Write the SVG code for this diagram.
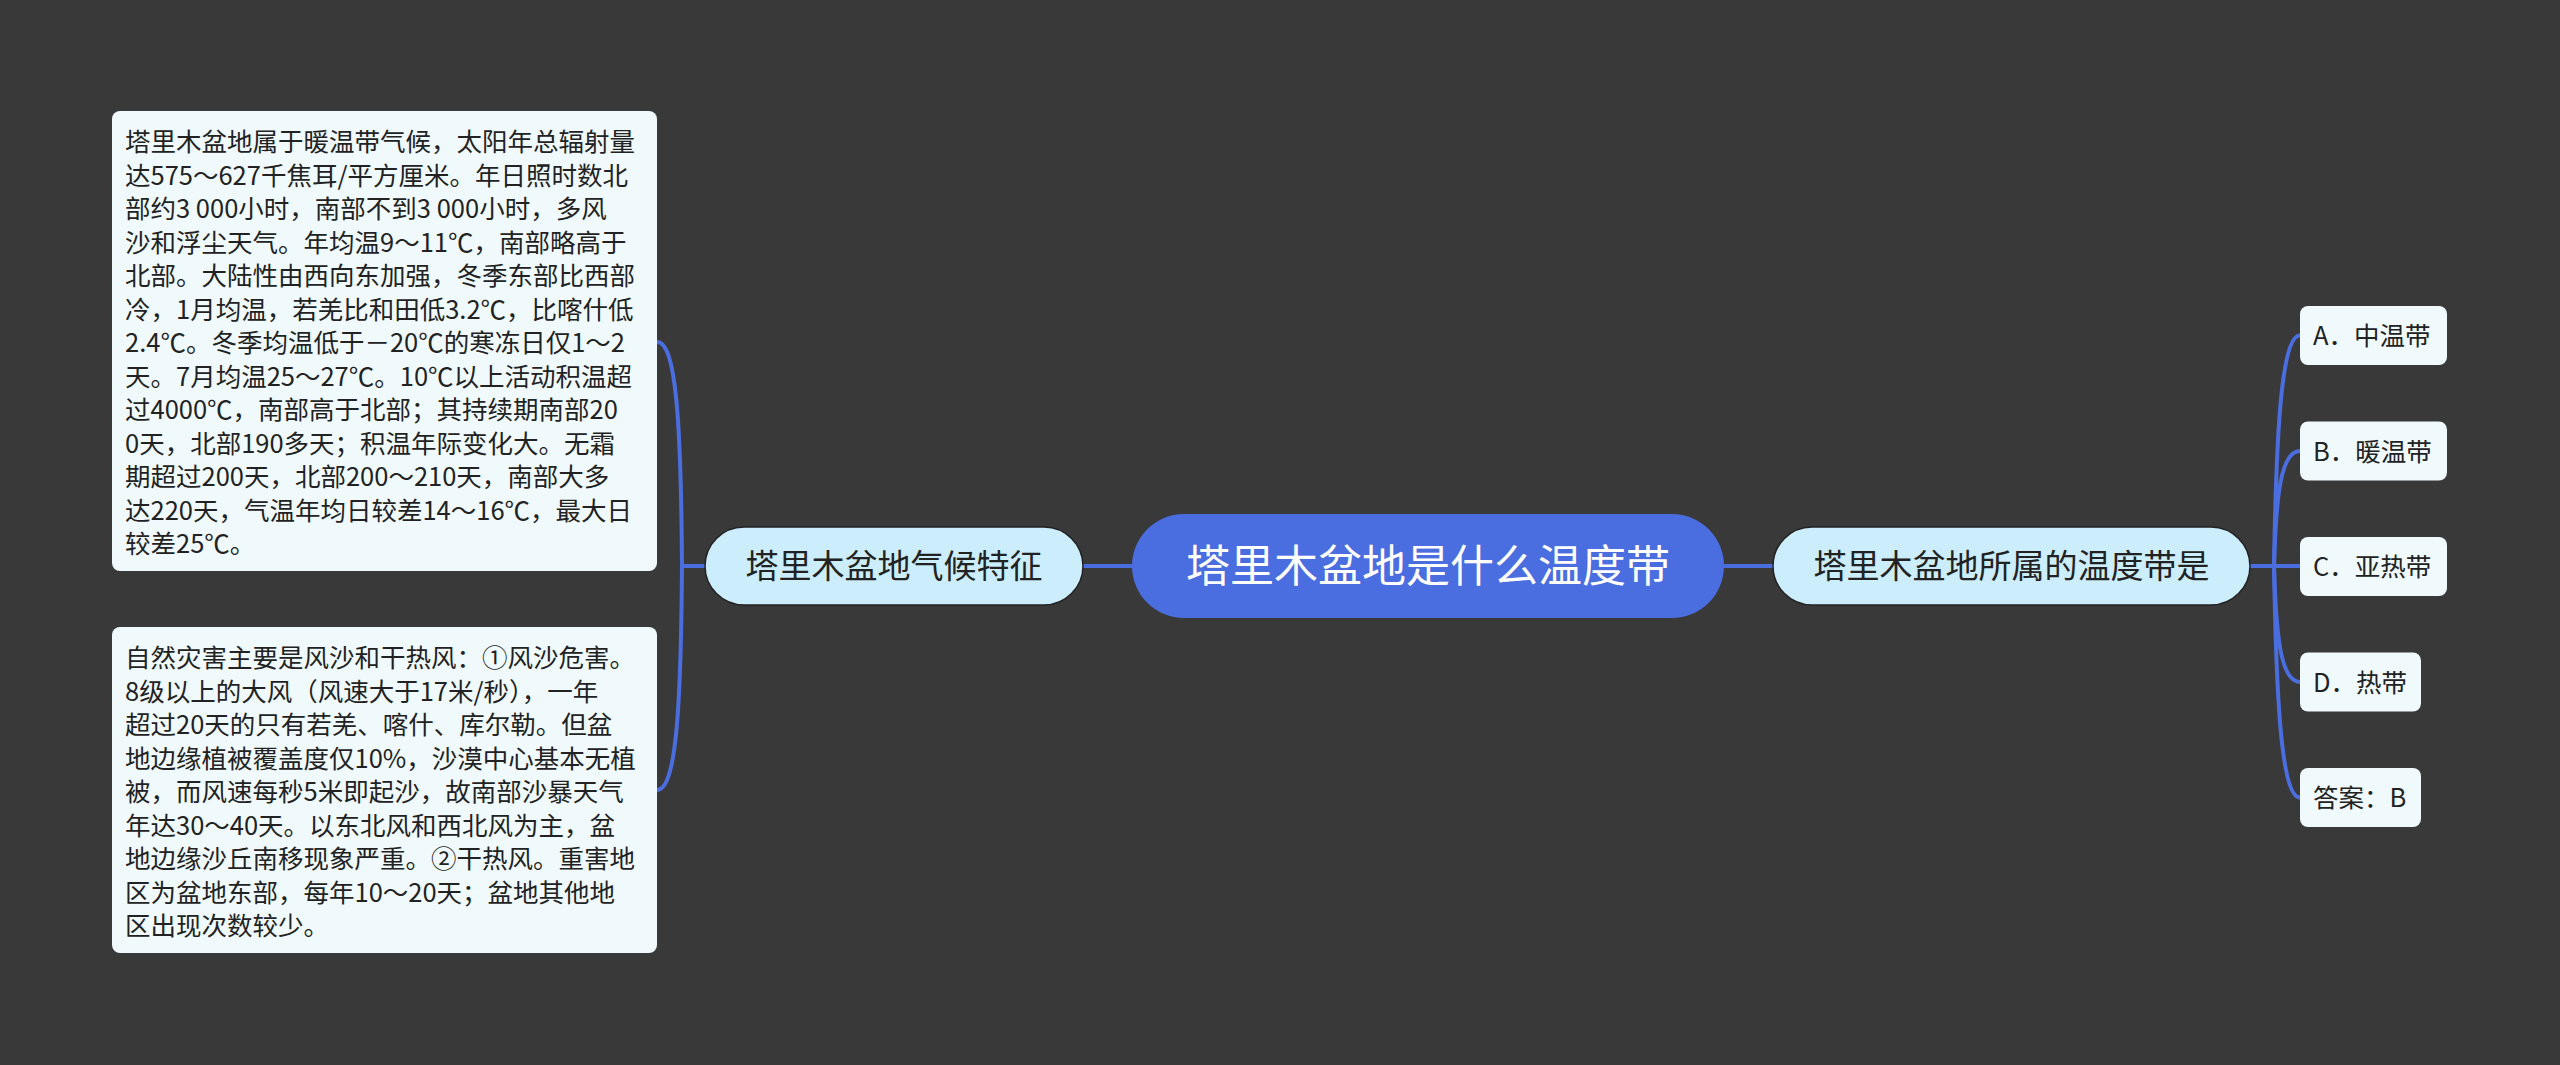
<svg xmlns="http://www.w3.org/2000/svg" width="2560" height="1065" viewBox="0 0 2560 1065">
<style>
.bg{fill:#3a393a}
.note{fill:#f0fafd}
.sub{fill:#cbedfc;stroke:#222;stroke-width:1.5}
.root{fill:#4a6ddf}
.opt{fill:#f0fafd}
.t{font-family:"Noto Sans CJK SC","Noto Sans",sans-serif;fill:#222}
.nt{font-size:25.5px}
.st{font-size:33px;text-anchor:middle}
.rt{font-size:44px;text-anchor:middle;fill:#fff}
.conn{fill:none;stroke:#4a6ee0;stroke-width:4;stroke-linecap:round}
</style>
<rect class="bg" x="0" y="0" width="2560" height="1065"/>
<g id="connectors">
<path class="conn" d="M1083 566 L1132 566"/>
<path class="conn" d="M1724 566 L1773 566"/>
<path class="conn" d="M705 566 L682 566 C681 420 676 342 657 342"/>
<path class="conn" d="M682 566 C681 710 676 790 657 790"/>
<path class="conn" d="M2250 566 L2274 566 C2276 450 2280 335.5 2300 335.5"/>
<path class="conn" d="M2274 566 C2276 500 2280 451 2300 451"/>
<path class="conn" d="M2274 566 L2300 566"/>
<path class="conn" d="M2274 566 C2276 632 2280 682 2300 682"/>
<path class="conn" d="M2274 566 C2276 682 2280 797.5 2300 797.5"/>
</g>
<g id="root">
<rect class="root" x="1132" y="514" width="592" height="104" rx="52"/>
<text class="t rt" x="1428" y="582">塔里木盆地是什么温度带</text>
</g>
<g id="left-topic">
<rect class="sub" x="705" y="527" width="378" height="78" rx="39"/>
<text class="t st" x="894" y="578">塔里木盆地气候特征</text>
</g>
<g id="right-topic">
<rect class="sub" x="1773" y="527" width="477" height="78" rx="39"/>
<text class="t st" x="2011.5" y="578">塔里木盆地所属的温度带是</text>
</g>
<g id="note-climate">
<rect class="note" x="112" y="111" width="545" height="460" rx="8"/>
<text class="t nt">
<tspan x="125" y="151">塔里木盆地属于暖温带气候，太阳年总辐射量</tspan>
<tspan x="125" y="184.5">达575～627千焦耳/平方厘米。年日照时数北</tspan>
<tspan x="125" y="218">部约3 000小时，南部不到3 000小时，多风</tspan>
<tspan x="125" y="251.5">沙和浮尘天气。年均温9～11℃，南部略高于</tspan>
<tspan x="125" y="285">北部。大陆性由西向东加强，冬季东部比西部</tspan>
<tspan x="125" y="318.5">冷，1月均温，若羌比和田低3.2℃，比喀什低</tspan>
<tspan x="125" y="352">2.4℃。冬季均温低于－20℃的寒冻日仅1～2</tspan>
<tspan x="125" y="385.5">天。7月均温25～27℃。10℃以上活动积温超</tspan>
<tspan x="125" y="419">过4000℃，南部高于北部；其持续期南部20</tspan>
<tspan x="125" y="452.5">0天，北部190多天；积温年际变化大。无霜</tspan>
<tspan x="125" y="486">期超过200天，北部200～210天，南部大多</tspan>
<tspan x="125" y="519.5">达220天，气温年均日较差14～16℃，最大日</tspan>
<tspan x="125" y="553">较差25℃。</tspan>
</text>
</g>
<g id="note-disaster">
<rect class="note" x="112" y="627" width="545" height="326" rx="8"/>
<text class="t nt">
<tspan x="125" y="667">自然灾害主要是风沙和干热风：①风沙危害。</tspan>
<tspan x="125" y="700.5">8级以上的大风（风速大于17米/秒），一年</tspan>
<tspan x="125" y="734">超过20天的只有若羌、喀什、库尔勒。但盆</tspan>
<tspan x="125" y="767.5">地边缘植被覆盖度仅10%，沙漠中心基本无植</tspan>
<tspan x="125" y="801">被，而风速每秒5米即起沙，故南部沙暴天气</tspan>
<tspan x="125" y="834.5">年达30～40天。以东北风和西北风为主，盆</tspan>
<tspan x="125" y="868">地边缘沙丘南移现象严重。②干热风。重害地</tspan>
<tspan x="125" y="901.5">区为盆地东部，每年10～20天；盆地其他地</tspan>
<tspan x="125" y="935">区出现次数较少。</tspan>
</text>
</g>
<g id="opt-a">
<rect class="opt" x="2300" y="306" width="147" height="59" rx="8"/>
<text class="t nt" x="2313" y="345">A．中温带</text>
</g>
<g id="opt-b">
<rect class="opt" x="2300" y="421.5" width="147" height="59" rx="8"/>
<text class="t nt" x="2313" y="460.5">B．暖温带</text>
</g>
<g id="opt-c">
<rect class="opt" x="2300" y="537" width="147" height="59" rx="8"/>
<text class="t nt" x="2313" y="576">C．亚热带</text>
</g>
<g id="opt-d">
<rect class="opt" x="2300" y="652.5" width="121" height="59" rx="8"/>
<text class="t nt" x="2313" y="691.5">D．热带</text>
</g>
<g id="answer">
<rect class="opt" x="2300" y="768" width="121" height="59" rx="8"/>
<text class="t nt" x="2313" y="807">答案：B</text>
</g>
</svg>
